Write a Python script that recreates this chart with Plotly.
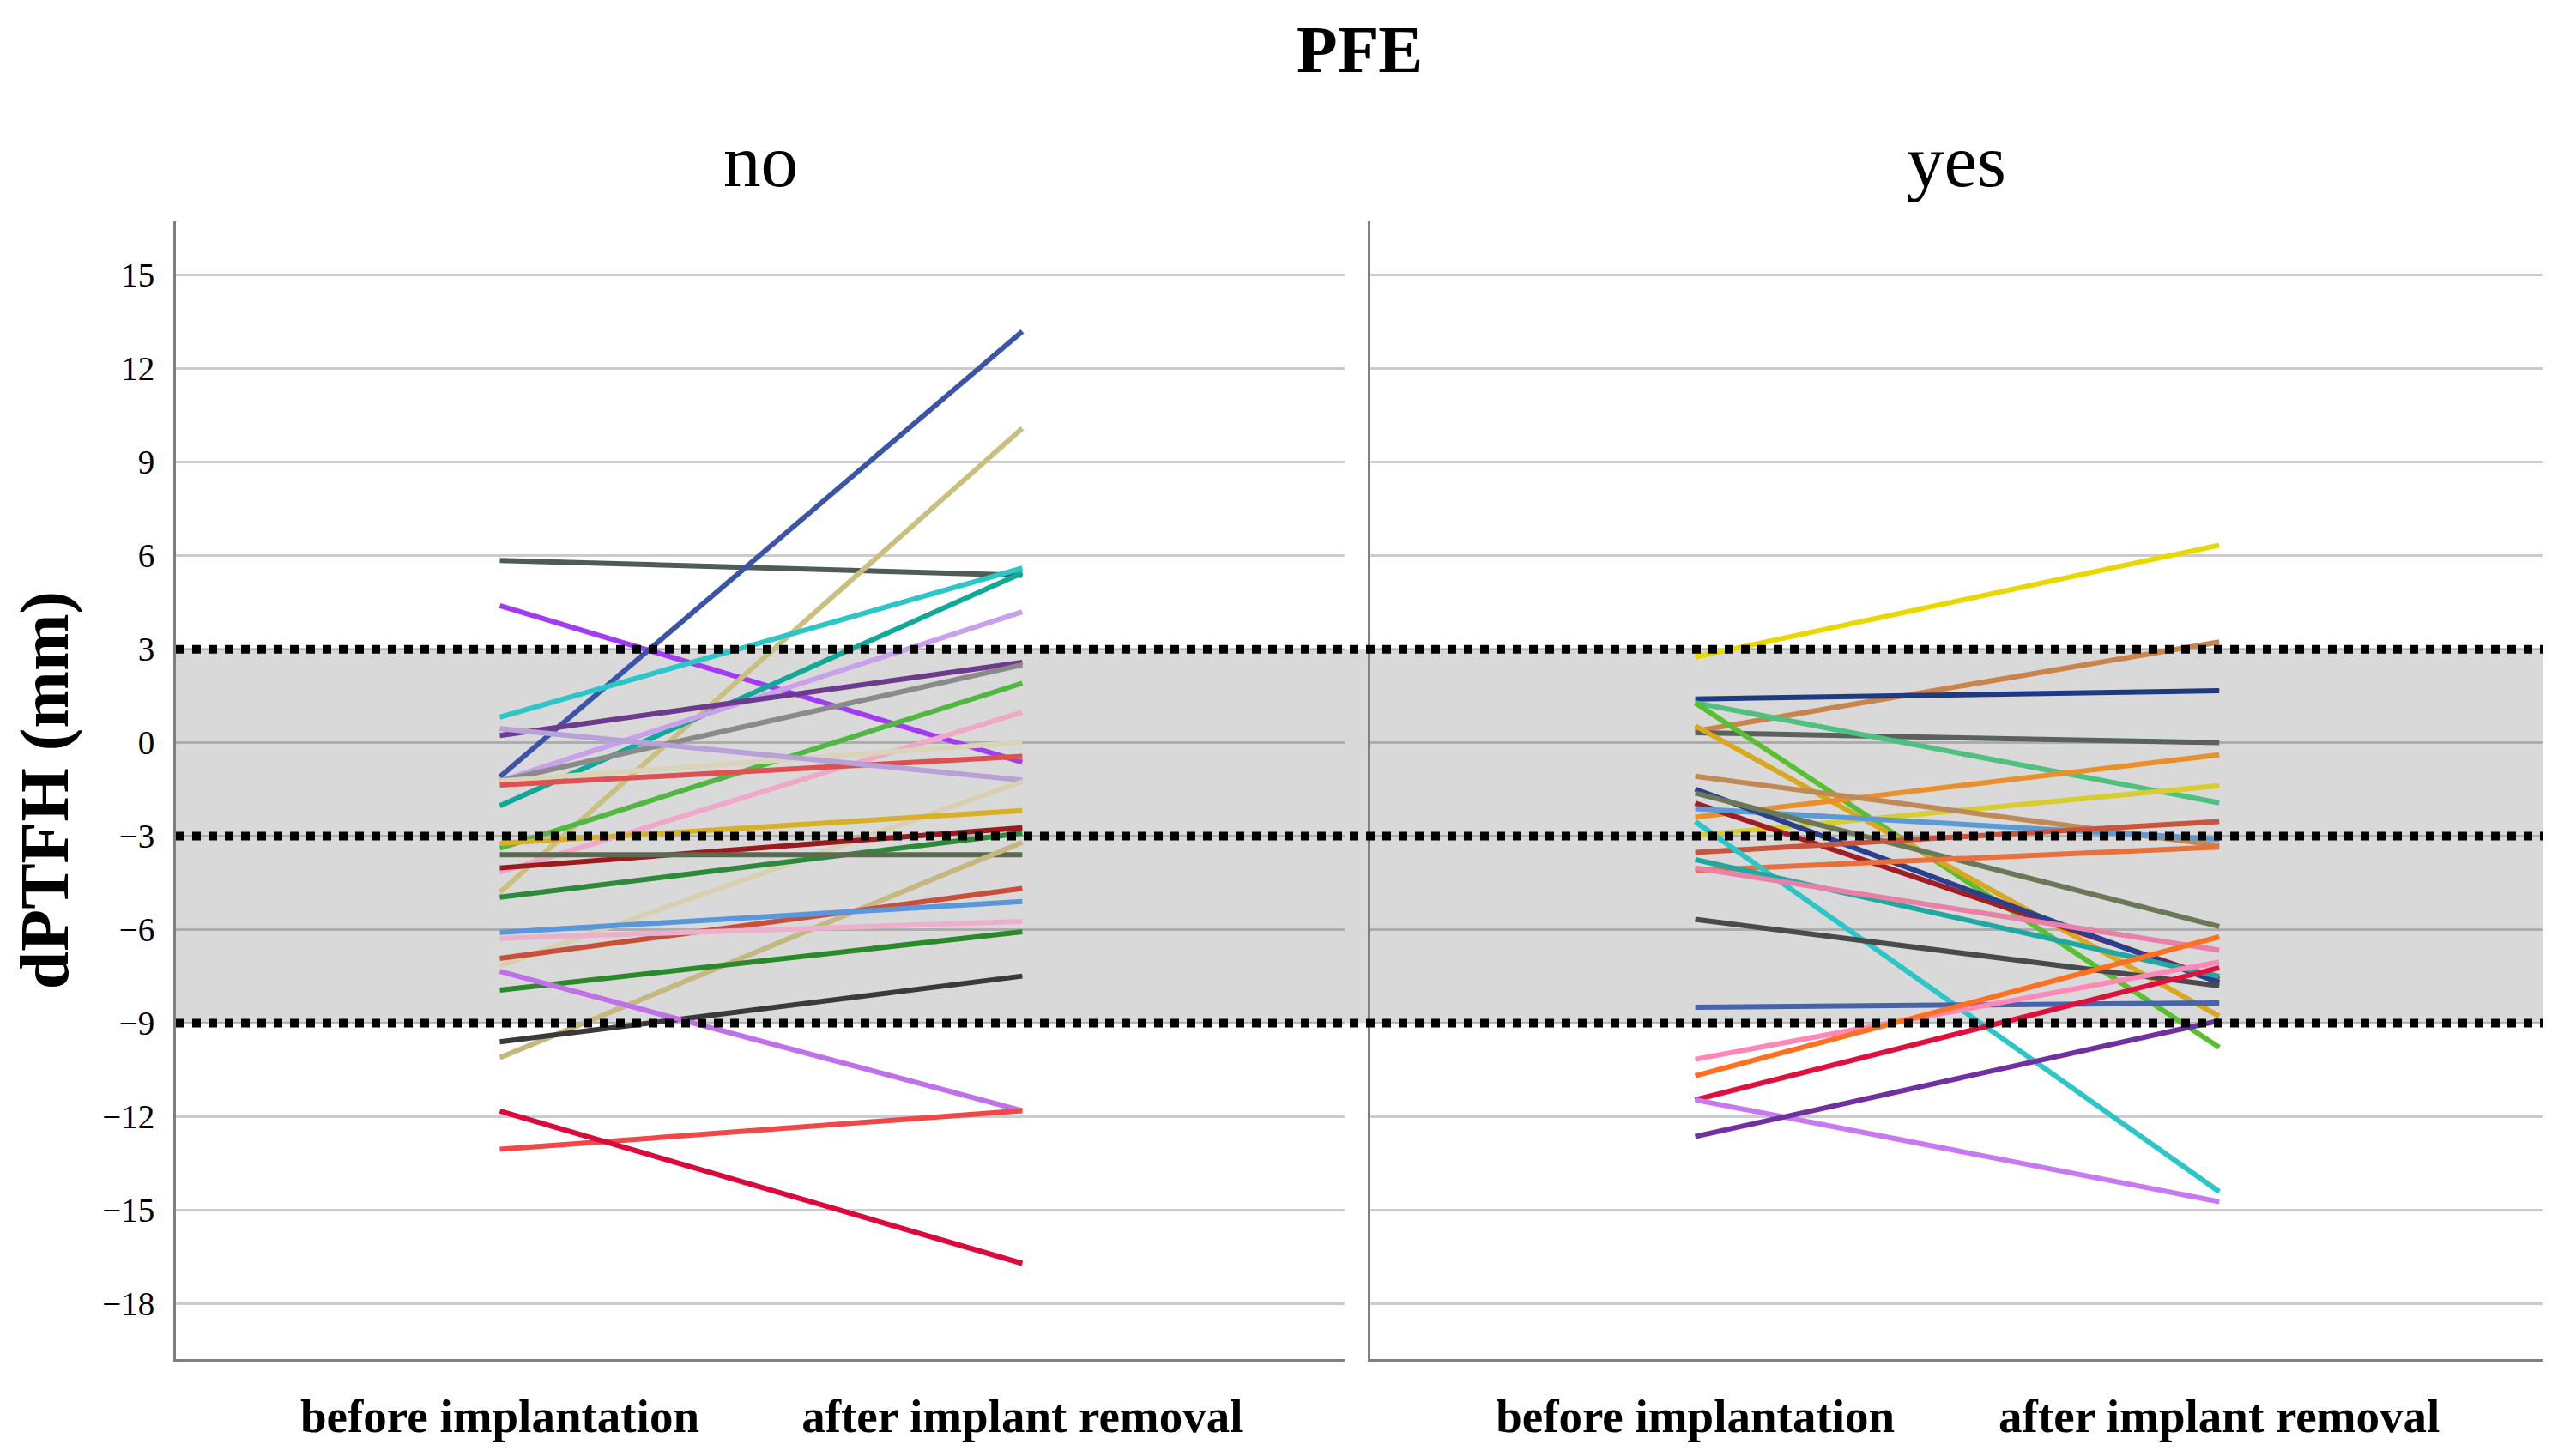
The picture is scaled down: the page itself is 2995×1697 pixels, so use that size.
import plotly.graph_objects as go

# ---------------- data ----------------
categories = ["before implantation", "after implant removal"]
panels = ["no", "yes"]
thresholds = [3, -3, -9]
band = [-9, 3]
y_ticks = [15, 12, 9, 6, 3, 0, -3, -6, -9, -12, -15, -18]

no_before = [5.85, 4.40, -1.10, -4.80, 0.82, -2.03, -1.23, 0.23, -1.23, -3.39,
             -4.16, -1.23, -1.36, 0.45, -7.16, -3.23, -4.02, -4.96, -3.60, -10.11,
             -6.92, -6.09, -6.28, -7.94, -9.60, -7.34, -13.05, -11.82]
no_after = [5.37, -0.63, 13.20, 10.09, 5.60, 5.45, 4.20, 2.58, 2.50, 1.91,
            0.98, 0.02, -0.44, -1.20, -1.25, -2.18, -2.73, -2.90, -3.60, -3.20,
            -4.68, -5.10, -5.74, -6.07, -7.49, -11.81, -11.81, -16.71]
no_colors = ["#4f5b57", "#a23cf0", "#3a55a8", "#c9c080", "#2cc5c8", "#10a898", "#c8a0ec",
             "#6e3a8e", "#8a8a8a", "#50b840", "#f0a8c8", "#d9d4b8", "#e05050", "#b8a0d8",
             "#d8d0b0", "#d8b028", "#9a1a20", "#2e8a3a", "#5c6a50", "#c4b880", "#c8503a",
             "#5a96dc", "#ecb0cc", "#2a8a2a", "#3a3a3a", "#c070e8", "#f04848", "#dc0a3c"]

yes_before = [2.75, 0.37, 1.40, 0.32, 1.28, 1.28, 0.54, -2.39, -2.98, -1.08,
              -1.94, -2.12, -1.49, -1.62, -3.52, -4.10, -2.53, -3.75, -4.02, -5.67,
              -8.49, -10.16, -10.69, -11.46, -11.46, -12.64]
yes_after = [6.34, 3.23, 1.67, 0.00, -1.93, -9.78, -8.78, -0.39, -1.38, -3.30,
             -7.60, -3.10, -7.70, -5.90, -2.53, -3.35, -14.41, -7.50, -6.66, -7.80,
             -8.35, -7.04, -6.23, -7.22, -14.73, -8.92]
yes_colors = ["#e8d800", "#c8844a", "#1e3a80", "#5a625e", "#50c080", "#58c030", "#d8a820",
              "#e8902c", "#d8cc30", "#c08a58", "#a01e28", "#5b9bd5", "#27408f", "#6a7858",
              "#c8553d", "#e8703a", "#2cc6c8", "#20a8a0", "#e880a8", "#4a4a4a", "#4664ac",
              "#ff88b8", "#ff7020", "#e0103c", "#c878f0", "#7030a0"]

# ---------------- figure ----------------
FONT = "Liberation Serif"
W, H = 2995, 1697
ML, MR, MT, MB = 197, 40, 250, 121
plot_w = W - ML - MR
d1 = [0, (1559 - ML) / plot_w]
d2 = [(1589 - ML) / plot_w, 1]

fig = go.Figure()
xpos = [0, 1]
for b, a, c in zip(no_before, no_after, no_colors):
    fig.add_trace(go.Scatter(x=xpos, y=[b, a], mode="lines", line=dict(color=c, width=6),
                             xaxis="x", yaxis="y", showlegend=False, hoverinfo="skip"))
for b, a, c in zip(yes_before, yes_after, yes_colors):
    fig.add_trace(go.Scatter(x=xpos, y=[b, a], mode="lines", line=dict(color=c, width=6),
                             xaxis="x2", yaxis="y2", showlegend=False, hoverinfo="skip"))

yr = [-19.78, 16.73]
xr = [-0.62, 1.617]
common_y = dict(range=yr, tickvals=y_ticks, showgrid=True, gridcolor="rgba(0,0,0,0.2)",
                gridwidth=3, zeroline=False, showline=True, linecolor="#808080",
                linewidth=3, ticks="")
common_x = dict(range=xr, tickvals=xpos, ticktext=categories, showgrid=False, zeroline=False,
                showline=True, linecolor="#808080", linewidth=3, ticks="",
                tickfont=dict(family=FONT, size=55, color="black", weight="bold"),
                ticklabelstandoff=16)

fig.update_layout(
    width=W, height=H,
    margin=dict(l=ML, r=MR, t=MT, b=MB),
    paper_bgcolor="white", plot_bgcolor="rgba(0,0,0,0)",
    xaxis=dict(domain=d1, anchor="y", **common_x),
    xaxis2=dict(domain=d2, anchor="y2", **common_x),
    yaxis=dict(domain=[0, 1], anchor="x",
               tickfont=dict(family=FONT, size=39, color="black"), ticklabelstandoff=14,
               title=dict(text="dPTFH (mm)", standoff=28,
                          font=dict(family=FONT, size=80, color="black", weight="bold")),
               **common_y),
    yaxis2=dict(domain=[0, 1], anchor="x2", matches="y", showticklabels=False, **common_y),
    showlegend=False,
)

# grey reference band across both panels
fig.add_shape(type="rect", xref="paper", yref="y", x0=0, x1=1, y0=band[0], y1=band[1],
              fillcolor="#d9d9d9", line=dict(width=0), layer="below")
# dotted threshold lines
for t in thresholds:
    fig.add_shape(type="line", xref="paper", yref="y", x0=0, x1=1, y0=t, y1=t,
                  line=dict(color="black", width=10, dash="10px,9px"), layer="above")

plot_h = H - MT - MB
def ypix(p):
    return 1 + (MT - p) / plot_h

fig.add_annotation(text="PFE", xref="paper", yref="paper", x=0.5, y=ypix(4),
                   xanchor="center", yanchor="top", showarrow=False,
                   font=dict(family=FONT, size=78, color="black", weight="bold"))
for name, dom in zip(panels, [d1, d2]):
    fig.add_annotation(text=name, xref="paper", yref="paper", x=(dom[0] + dom[1]) / 2,
                       y=ypix(180), xanchor="center", yanchor="middle", showarrow=False,
                       font=dict(family=FONT, size=87, color="black"))

fig.write_html("out.html")
